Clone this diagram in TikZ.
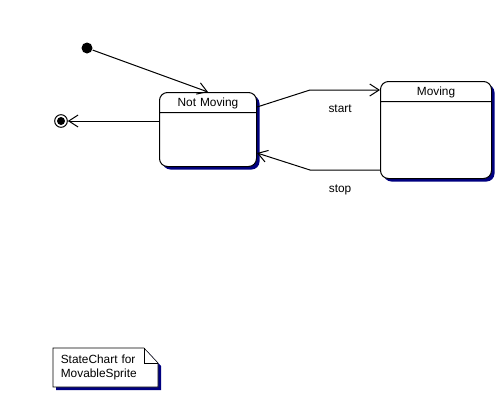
\documentclass[tikz,border=0pt]{standalone}
\usepackage{fontspec}
\setmainfont{Liberation Sans}
\usetikzlibrary{arrows.meta, calc, shapes.multipart, shadows, backgrounds}
\definecolor{shadownavy}{HTML}{000080}

\begin{document}
\begin{tikzpicture}[x=0.75pt, y=-0.75pt,
    >={Straight Barb[length=7pt, width=9pt]}, line width=0.75pt,
    font=\fontsize{8.9}{10.5}\selectfont,
    state/.style={draw, fill=white, rectangle split, rectangle split parts=2,
      rectangle split part align={center, center}, align=center,
      rounded corners=6pt, inner xsep=0pt, inner ysep=0pt, anchor=north west,
      general shadow={fill=shadownavy, shadow xshift=2.25pt, shadow yshift=-2.25pt}},
    initial/.style={circle, fill, minimum size=8.25pt, inner sep=0pt},
    final/.style={circle, draw, fill=white, minimum size=9.5pt, inner sep=0pt,
      path picture={\fill[black] (path picture bounding box.center) circle (3pt);}},
    trans/.style={->},
    lbl/.style={inner sep=1pt},
    note/.style={anchor=north west, minimum width=78pt, minimum height=28.5pt,
      inner xsep=5.5pt, inner ysep=0pt, text width=67pt, align=left}]
    \useasboundingbox (0,0) rectangle (503,401);
    \node[state, text width=72.75pt] (notmoving) at (159,92) {\rule[-4.5pt]{0pt}{14.25pt}Not Moving\nodepart{second}\rule{0pt}{39.75pt}};
    \node[state, text width=83.25pt] (moving) at (380,81) {\rule[-4.5pt]{0pt}{14.25pt}Moving\nodepart{second}\rule{0pt}{57pt}};
    \node[initial] (init) at (87,48) {};
    \node[final] (final) at (61,121) {};
    \node[note] (note) at (53,348) {StateChart for\\MovableSprite};
    \draw[trans] (init) -- (notmoving.north);
    \draw[trans] ($(notmoving.north west)+(0,29)$) -- (final);
    \draw[trans] ($(notmoving.north east)+(0,15)$) -- ++(53,-17) -- node[lbl, pos=0.43, below=9.5pt] {start} ($(moving.north west)+(0,9)$);
    \draw[trans] ($(moving.south west)+(0,-9)$) -- node[lbl, pos=0.57, below=9.5pt] {stop} ++(-70,0) -- ($(notmoving.south east)+(0,-14)$);
    % note outline with folded corner
    \begin{scope}[on background layer]
      \fill[shadownavy, transform canvas={shift={(2.25pt,-2.25pt)}}] (note.north west) -- ($(note.north east)+(-14,0)$) -- ($(note.north east)+(0,15)$) -- (note.south east) -- (note.south west) -- cycle;
      \filldraw[fill=white] (note.north west) -- ($(note.north east)+(-14,0)$) -- ($(note.north east)+(0,15)$) -- (note.south east) -- (note.south west) -- cycle;
      \draw ($(note.north east)+(-14,0)$) -- ++(0,15) -- ++(14,0);
    \end{scope}
\end{tikzpicture}
\end{document}
